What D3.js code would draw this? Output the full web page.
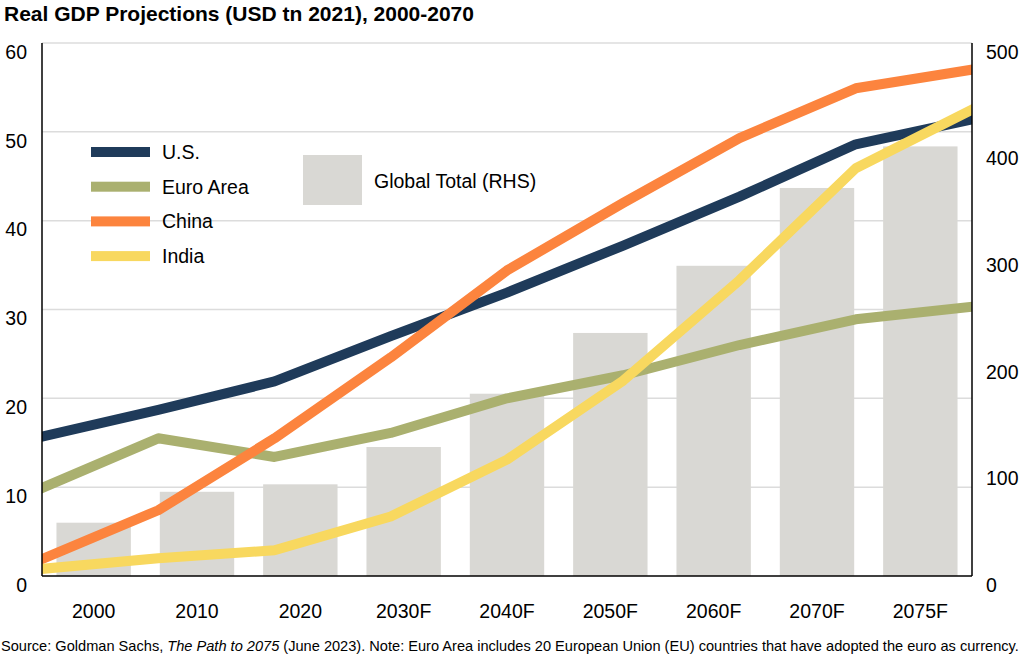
<!DOCTYPE html>
<html>
<head>
<meta charset="utf-8">
<script src="https://cdn.jsdelivr.net/npm/d3@7"></script>
<style>
    body { margin: 0; background: #fff; }
    text { font-family: "Liberation Sans", Arial, sans-serif; fill: #000; }
</style>
</head>
<body>
<div id="chart"></div>
<script>
/******************************************************
 *!              Data
*******************************************************/
const YEARS = ["2000", "2010", "2020", "2030F", "2040F", "2050F", "2060F", "2070F", "2075F"];
const GLOBAL_TOTAL = [50, 79, 86, 121, 171, 228, 291, 364, 403];
const US = [15.7, 18.7, 21.9, 27.0, 31.9, 37.2, 42.7, 48.6, 51.4];
const EURO_AREA = [9.9, 15.5, 13.4, 16.1, 20.0, 22.6, 26.0, 28.9, 30.3];
const CHINA = [1.9, 7.4, 15.5, 24.6, 34.4, 42.0, 49.3, 54.9, 57.0];
const INDIA = [0.8, 2.0, 2.9, 6.7, 13.1, 22.0, 33.3, 45.9, 52.5];
const LEFT_TICKS = [0, 10, 20, 30, 40, 50, 60];
const RIGHT_TICKS = [0, 100, 200, 300, 400, 500];

const SERIES = [
    { name: "U.S.", values: US, color: "#1f3b5a" },
    { name: "Euro Area", values: EURO_AREA, color: "#aab06f" },
    { name: "China", values: CHINA, color: "#fc843e" },
    { name: "India", values: INDIA, color: "#f8d85f" }
];

/******************************************************
 *!              Layout
*******************************************************/
const WIDTH = 1024;
const HEIGHT = 669;
const PLOT = { left: 42, right: 972, top: 43, bottom: 576 };
const FONT_SIZE = 19.5;
const LINE_WIDTH = 10;

const svg = d3.select("#chart").append("svg")
    .attr("width", WIDTH)
    .attr("height", HEIGHT);

// Scales
const yLeft = d3.scaleLinear().domain([0, 60]).range([PLOT.bottom, PLOT.top]);
const yRight = d3.scaleLinear().domain([0, 500]).range([PLOT.bottom, PLOT.top]);
const xBand = d3.scaleBand().domain(YEARS).range([PLOT.left, PLOT.right])
    .paddingInner(0.28).paddingOuter(0.14);
const xPoint = d3.scalePoint().domain(YEARS).range([PLOT.left, PLOT.right]);

// Title
svg.append("text")
    .attr("x", 4).attr("y", 21)
    .style("font-size", "21px").style("font-weight", "bold")
    .text("Real GDP Projections (USD tn 2021), 2000-2070");

// Gridlines
svg.append("g").selectAll("line")
    .data(LEFT_TICKS.filter(d => d > 0))
    .enter().append("line")
    .attr("x1", PLOT.left).attr("x2", PLOT.right)
    .attr("y1", d => yLeft(d)).attr("y2", d => yLeft(d))
    .style("stroke", "#dcdcdc").style("stroke-width", 1.5);

// Bars (global total, RHS)
svg.append("g").selectAll("rect")
    .data(YEARS)
    .enter().append("rect")
    .attr("x", d => xBand(d))
    .attr("width", xBand.bandwidth())
    .attr("y", (d, i) => yRight(GLOBAL_TOTAL[i]))
    .attr("height", (d, i) => PLOT.bottom - yRight(GLOBAL_TOTAL[i]))
    .style("fill", "#d9d8d4");

// Lines
const line = d3.line()
    .x((d, i) => xPoint(YEARS[i]))
    .y(d => yLeft(d));

svg.append("defs").append("clipPath").attr("id", "plotClip")
    .append("rect")
    .attr("x", PLOT.left).attr("y", 0)
    .attr("width", PLOT.right - PLOT.left).attr("height", HEIGHT);

svg.append("g").attr("clip-path", "url(#plotClip)")
    .selectAll("path")
    .data(SERIES)
    .enter().append("path")
    .attr("d", d => line(d.values))
    .style("fill", "none")
    .style("stroke", d => d.color)
    .style("stroke-width", LINE_WIDTH)
    .style("stroke-linejoin", "round")
    .style("stroke-linecap", "square");

// Axis lines
const axisLines = [
    [PLOT.left, PLOT.top, PLOT.left, PLOT.bottom],
    [PLOT.right, PLOT.top, PLOT.right, PLOT.bottom],
    [PLOT.left, PLOT.bottom, PLOT.right, PLOT.bottom]
];
svg.append("g").selectAll("line")
    .data(axisLines)
    .enter().append("line")
    .attr("x1", d => d[0]).attr("y1", d => d[1])
    .attr("x2", d => d[2]).attr("y2", d => d[3])
    .style("stroke", "#000").style("stroke-width", 1.5);

// Left tick labels (labels sit a little below their gridlines)
svg.append("g").selectAll("text")
    .data(LEFT_TICKS)
    .enter().append("text")
    .attr("x", 27)
    .attr("y", d => yLeft(d) + 9)
    .attr("dy", "0.35em")
    .attr("text-anchor", "end")
    .style("font-size", FONT_SIZE + "px")
    .text(d => d);

// Right tick labels
svg.append("g").selectAll("text")
    .data(RIGHT_TICKS)
    .enter().append("text")
    .attr("x", 986)
    .attr("y", d => yRight(d) + 9)
    .attr("dy", "0.35em")
    .style("font-size", FONT_SIZE + "px")
    .text(d => d);

// Category labels
svg.append("g").selectAll("text")
    .data(YEARS)
    .enter().append("text")
    .attr("x", d => xBand(d) + xBand.bandwidth() / 2)
    .attr("y", 611)
    .attr("dy", "0.35em")
    .attr("text-anchor", "middle")
    .style("font-size", FONT_SIZE + "px")
    .text(d => d);

/******************************************************
 *!              Legend
*******************************************************/
const legend = svg.append("g");
const legendRows = legend.selectAll("g")
    .data(SERIES)
    .enter().append("g")
    .attr("transform", (d, i) => `translate(91, ${152 + i * 34.7})`);

legendRows.append("rect")
    .attr("x", 0).attr("y", -5)
    .attr("width", 59).attr("height", 10)
    .style("fill", d => d.color);

legendRows.append("text")
    .attr("x", 71).attr("y", 0)
    .attr("dy", "0.35em")
    .style("font-size", FONT_SIZE + "px")
    .text(d => d.name);

legend.append("rect")
    .attr("x", 303).attr("y", 155)
    .attr("width", 59).attr("height", 50)
    .style("fill", "#d9d8d4");

legend.append("text")
    .attr("x", 374).attr("y", 181)
    .attr("dy", "0.35em")
    .style("font-size", FONT_SIZE + "px")
    .text("Global Total (RHS)");

/******************************************************
 *!              Source note
*******************************************************/
const note = svg.append("text")
    .attr("x", 1).attr("y", 646)
    .attr("dy", "0.35em")
    .style("font-size", "14.6px");
note.append("tspan").text("Source: Goldman Sachs, ");
note.append("tspan").style("font-style", "italic").text("The Path to 2075");
note.append("tspan").text(" (June 2023). Note: Euro Area includes 20 European Union (EU) countries that have adopted the euro as currency.");
</script>
</body>
</html>
